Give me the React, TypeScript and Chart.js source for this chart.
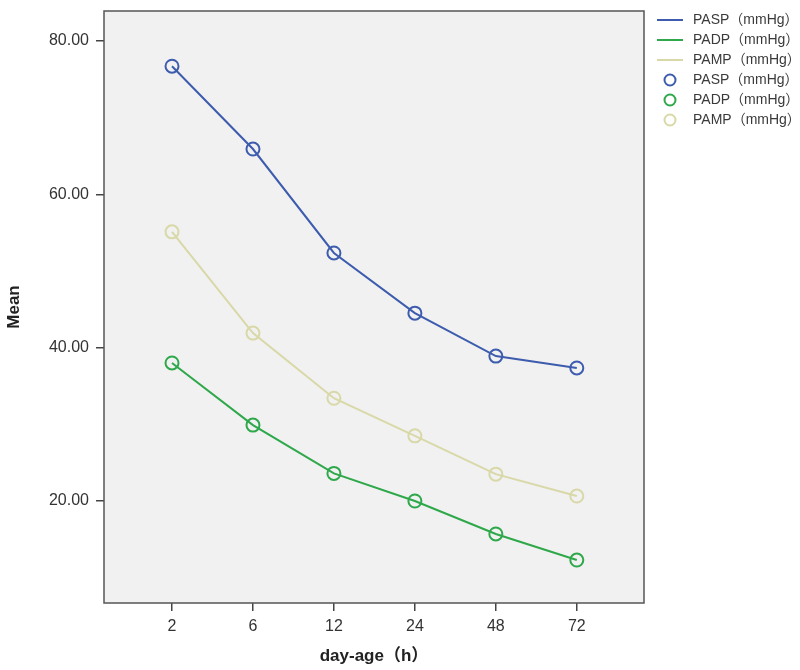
import React, { useEffect, useRef } from "react";
import { Chart, registerables } from "chart.js";

Chart.register(...registerables);

const categories = ["2", "6", "12", "24", "48", "72"];
const paspValues = [76.7, 65.9, 52.35, 44.5, 38.9, 37.35];
const padpValues = [38.0, 29.9, 23.6, 20.0, 15.7, 12.3];
const pampValues = [55.1, 41.9, 33.4, 28.5, 23.5, 20.65];
const yTickValues = [20, 40, 60, 80];

const seriesNames = ["PASP（mmHg）", "PADP（mmHg）", "PAMP（mmHg）"];
const seriesColors = ["#3d5cae", "#2ea84a", "#d9d8a8"];

const FONT = "'Liberation Sans', Arial, 'Noto Sans CJK SC', sans-serif";

const framePlugin = {
  id: "spssFrame",
  beforeDatasetsDraw(chart: any) {
    const { ctx, chartArea: a } = chart;
    ctx.save();
    ctx.fillStyle = "#f1f1f1";
    ctx.fillRect(a.left, a.top, a.right - a.left, a.bottom - a.top);
    ctx.restore();
  },
  afterDraw(chart: any) {
    const { ctx, chartArea: a } = chart;
    ctx.save();
    ctx.strokeStyle = "#555555";
    ctx.lineWidth = 1.5;
    ctx.strokeRect(a.left, a.top, a.right - a.left, a.bottom - a.top);

    // legend
    const lx0 = 657;
    const lx1 = 683;
    const tx = 693;
    const rowY = [20, 40, 60, 80, 100, 120];
    ctx.font = `14px ${FONT}`;
    ctx.textBaseline = "middle";
    ctx.textAlign = "left";
    for (let i = 0; i < 6; i++) {
      const s = i % 3;
      const y = rowY[i];
      ctx.strokeStyle = seriesColors[s];
      ctx.lineWidth = 2;
      if (i < 3) {
        ctx.beginPath();
        ctx.moveTo(lx0, y);
        ctx.lineTo(lx1, y);
        ctx.stroke();
      } else {
        ctx.beginPath();
        ctx.arc((lx0 + lx1) / 2, y, 5.5, 0, Math.PI * 2);
        ctx.stroke();
      }
      ctx.fillStyle = "#3a3a3a";
      ctx.fillText(seriesNames[s], tx, y);
    }
    ctx.restore();
  },
};

export default function App() {
  const ref = useRef<HTMLCanvasElement | null>(null);

  useEffect(() => {
    if (!ref.current) return;
    const allSeries = [paspValues, padpValues, pampValues];
    const chart = new Chart(ref.current, {
      type: "line",
      data: {
        datasets: allSeries.map((vals, s) => ({
          label: seriesNames[s],
          data: vals.map((v, i) => ({ x: i, y: v })),
          borderColor: seriesColors[s],
          backgroundColor: "transparent",
          borderWidth: 2,
          tension: 0,
          pointRadius: 6.5,
          pointBorderWidth: 2,
          pointBackgroundColor: "transparent",
          pointBorderColor: seriesColors[s],
          fill: false,
        })),
      },
      options: {
        responsive: false,
        animation: false,
        events: [],
        layout: { padding: { left: 0, right: 156, top: 11, bottom: 0 } },
        plugins: {
          legend: { display: false },
          tooltip: { enabled: false },
        },
        scales: {
          x: {
            type: "linear",
            min: -0.84,
            max: 5.83,
            afterBuildTicks: (scale: any) => {
              scale.ticks = categories.map((_, i) => ({ value: i }));
            },
            afterFit: (scale: any) => {
              scale.height = 67;
              scale.paddingLeft = 0;
              scale.paddingRight = 0;
            },
            grid: {
              display: true,
              drawOnChartArea: false,
              drawTicks: true,
              tickLength: 8,
              color: "#444444",
              lineWidth: 1.5,
            },
            border: { display: false },
            ticks: {
              padding: 6,
              color: "#333333",
              font: { family: FONT, size: 16 },
              maxRotation: 0,
              autoSkip: false,
              callback: (v: any) => categories[Math.round(Number(v))] ?? "",
            },
            title: {
              display: true,
              text: "day-age（h）",
              color: "#222222",
              font: { family: FONT, size: 17, weight: "bold" },
              padding: { top: 0, bottom: 3 },
            },
          },
          y: {
            type: "linear",
            min: 6.7,
            max: 83.9,
            afterBuildTicks: (scale: any) => {
              scale.ticks = yTickValues.map((v) => ({ value: v }));
            },
            afterFit: (scale: any) => {
              scale.width = 104;
              scale.paddingTop = 0;
              scale.paddingBottom = 0;
            },
            grid: {
              display: true,
              drawOnChartArea: false,
              drawTicks: true,
              tickLength: 8,
              color: "#444444",
              lineWidth: 1.5,
            },
            border: { display: false },
            ticks: {
              padding: 7,
              color: "#333333",
              font: { family: FONT, size: 16 },
              callback: (v: any) => Number(v).toFixed(2),
            },
            title: {
              display: true,
              text: "Mean",
              color: "#222222",
              font: { family: FONT, size: 17, weight: "bold" },
              padding: { top: 4, bottom: 0 },
            },
          },
        },
      },
      plugins: [framePlugin],
    } as any);
    return () => chart.destroy();
  }, []);

  return (
    <div style={{ position: "absolute", left: 0, top: 0, width: 800, height: 670, background: "#ffffff" }}>
      <canvas ref={ref} width={800} height={670} style={{ display: "block" }} />
    </div>
  );
}
